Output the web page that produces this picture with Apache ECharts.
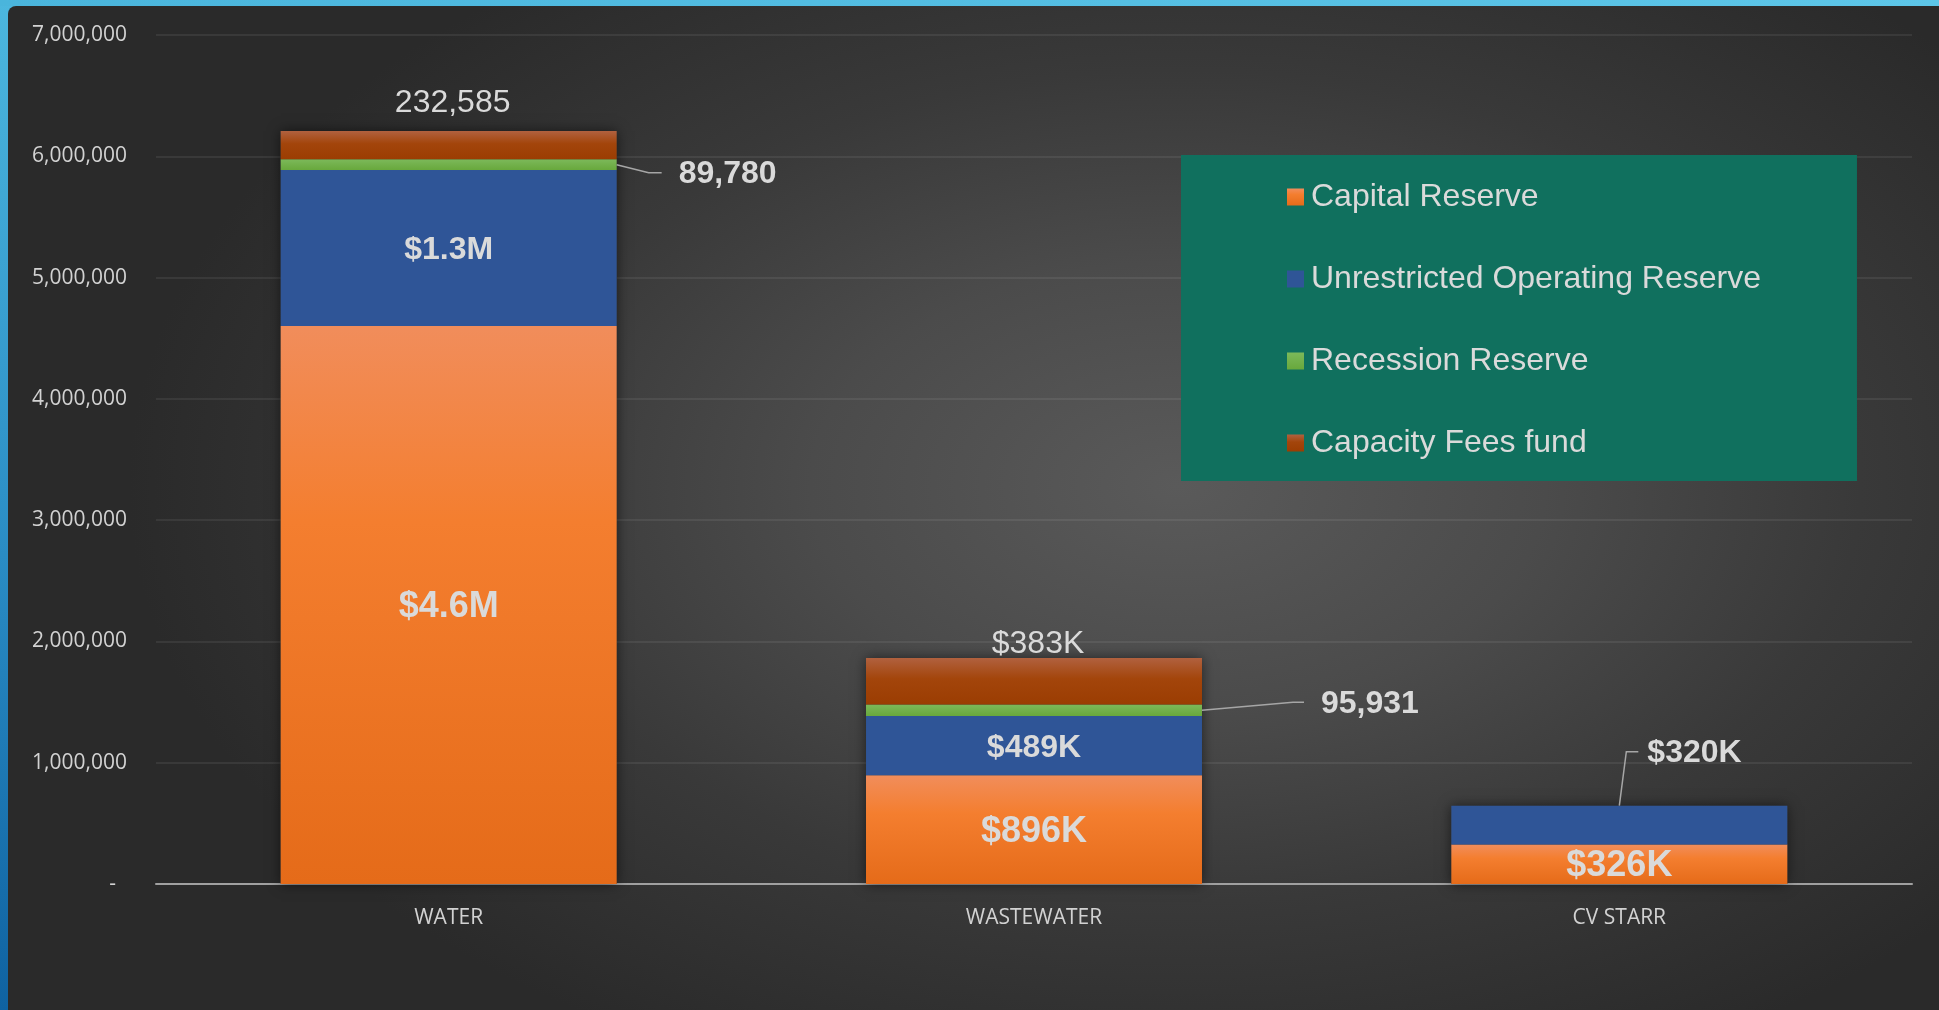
<!DOCTYPE html>
<html>
<head>
<meta charset="utf-8">
<script src="https://cdn.jsdelivr.net/npm/echarts@6/dist/echarts.min.js"></script>
<style>
  html, body { margin: 0; padding: 0; width: 1939px; height: 1010px; overflow: hidden; }
  #frame {
    position: absolute; left: 0; top: 0; width: 1939px; height: 1010px;
    background: linear-gradient(180deg, #4cb7de 0%, #2a8cc4 55%, #0f62a1 100%);
  }
  #frame::before {
    content: ''; position: absolute; left: 0; top: 0; width: 100%; height: 6px;
    background: linear-gradient(90deg, #4ab5dc, #5dc6e8);
  }
  #panel {
    position: absolute; left: 8px; top: 6px; right: 0; bottom: 0;
    border-top-left-radius: 8px;
    background: radial-gradient(ellipse 1050px 640px at 1170px 480px, #5a5a5a 0%, #4b4b4b 35%, #393939 65%, #2a2a2a 100%);
  }
  #chart { position: absolute; left: 0; top: 0; width: 1939px; height: 1010px; }
</style>
</head>
<body>
<div id="frame"><div id="panel"></div></div>
<div id="chart"></div>
<script>
// datos
const categories = ['WATER', 'WASTEWATER', 'CV STARR'];
const capitalReserve = [4600000, 896000, 326000];
const unrestrictedReserve = [1286000, 489000, 320000];
const recessionReserve = [89780, 95931, 0];
const capacityFees = [232585, 383000, 0];
const yMax = 7000000;
const yStep = 1000000;

const totals = categories.map((_, i) =>
  capitalReserve[i] + unrestrictedReserve[i] + recessionReserve[i] + capacityFees[i]);

const money = (v) => v >= 1e6 ? '$' + (v / 1e6).toFixed(1) + 'M' : '$' + Math.round(v / 1000) + 'K';
const comma = (v) => v.toLocaleString('en-US');

const txt = '#dadada';
const labelFont = '"Liberation Sans", Arial, sans-serif';
const axisFont = '"Open Sans", sans-serif';
const BAR_RATIO = 0.574;
const barW = (BAR_RATIO * 100) + '%';

const grad = (stops) => new echarts.graphic.LinearGradient(0, 0, 0, 1,
  stops.map(([offset, color]) => ({ offset, color })));

const orange = grad([[0, '#f18d5b'], [0.35, '#f47e2f'], [1, '#e56b19']]);
const blue = '#2f5597';
const green = grad([[0, '#7cb95a'], [1, '#68a83c']]);
const brown = grad([[0, '#b1613f'], [0.45, '#a3450b'], [1, '#9b3d02']]);

// etiquetas con linea guia (fuera de la barra)
const callouts = [
  { cat: 0, side: 'right', value: capitalReserve[0] + unrestrictedReserve[0] + recessionReserve[0] / 2,
    text: comma(recessionReserve[0]), elbow: [32, 8], run: 13, gap: 17 },
  { cat: 1, side: 'right', value: capitalReserve[1] + unrestrictedReserve[1] + recessionReserve[1] / 2,
    text: comma(recessionReserve[1]), elbow: [91, -8], run: 11, gap: 17 },
  { cat: 2, side: 'top', value: capitalReserve[2] + unrestrictedReserve[2],
    text: money(unrestrictedReserve[2]), elbow: [7, -54], run: 12, gap: 9 },
];

const chart = echarts.init(document.getElementById('chart'), null, { renderer: 'canvas' });

const option = {
  backgroundColor: 'transparent',
  animation: false,
  grid: { left: 156, right: 27, top: 35, bottom: 126 },
  legend: {
    orient: 'vertical',
    left: 1181, top: 155,
    data: ['Capital Reserve', 'Unrestricted Operating Reserve', 'Recession Reserve', 'Capacity Fees fund'],
    backgroundColor: '#10705e',
    padding: [26, 96, 22, 106],
    itemWidth: 17, itemHeight: 17,
    itemGap: 50,
    icon: 'rect',
    textStyle: { color: txt, fontFamily: labelFont, fontSize: 32, lineHeight: 32, padding: [0, 0, 0, 2] },
  },
  xAxis: {
    type: 'category',
    data: categories,
    axisLine: { lineStyle: { color: '#a0a0a0', width: 2 } },
    axisTick: { show: false },
    axisLabel: { color: '#d2d2d2', fontFamily: axisFont, fontSize: 21, margin: 24 },
    splitLine: { show: false },
  },
  yAxis: {
    type: 'value',
    min: 0, max: yMax, interval: yStep,
    axisLine: { show: false },
    axisTick: { show: false },
    axisLabel: {
      color: '#d2d2d2', fontFamily: axisFont, fontSize: 21, margin: 29, padding: [4, 0, 0, 0],
      formatter: (v) => v === 0 ? '-  ' : comma(v),
    },
    splitLine: { lineStyle: { color: 'rgba(255,255,255,0.07)', width: 2 } },
  },
  series: [
    {
      // sombra detras de la columna completa
      name: '_shadow', type: 'bar', data: totals, barWidth: barW, barGap: '-100%', z: 1, silent: true,
      itemStyle: { color: '#3a3a3a', shadowBlur: 12, shadowColor: 'rgba(0,0,0,0.55)' },
    },
    {
      name: 'Capital Reserve', type: 'bar', stack: 'r', data: capitalReserve, barWidth: barW, barGap: '-100%', z: 2,
      itemStyle: { color: orange },
      label: { show: true, position: 'inside', color: txt, fontFamily: labelFont, fontWeight: 'bold', fontSize: 36,
        offset: [0, 2], formatter: (p) => money(p.value) },
    },
    {
      name: 'Unrestricted Operating Reserve', type: 'bar', stack: 'r', barWidth: barW, barGap: '-100%', z: 2,
      data: unrestrictedReserve.map((v, i) => callouts.some((c) => c.cat === i && c.side === 'top')
        ? { value: v, label: { show: false } } : v),
      itemStyle: { color: blue },
      label: { show: true, position: 'inside', color: txt, fontFamily: labelFont, fontWeight: 'bold', fontSize: 32,
        offset: [0, 2], formatter: (p) => money(p.value) },
    },
    {
      name: 'Recession Reserve', type: 'bar', stack: 'r', data: recessionReserve, barWidth: barW, barGap: '-100%', z: 2,
      itemStyle: { color: green },
    },
    {
      name: 'Capacity Fees fund', type: 'bar', stack: 'r', barWidth: barW, barGap: '-100%', z: 2,
      data: capacityFees.map((v, i) => ({ value: v, label: { offset: i === 0 ? [4, -7] : [4, 7] } })),
      itemStyle: { color: brown },
      label: { show: true, position: 'top', color: txt, fontFamily: labelFont, fontSize: 32,
        formatter: (p) => p.value === 0 ? '' : (p.dataIndex === 0 ? comma(p.value) : money(p.value)) },
    },
    {
      name: '_callouts', type: 'custom', z: 5, silent: true,
      data: callouts.map((c) => [c.cat, c.value]),
      renderItem: (params, api) => {
        const c = callouts[params.dataIndex];
        const p = api.coord([api.value(0), api.value(1)]);
        const bw = api.size([1, 0])[0] * BAR_RATIO;
        const x0 = c.side === 'right' ? p[0] + bw / 2 : p[0];
        const y0 = p[1];
        const x1 = x0 + c.elbow[0];
        const y1 = y0 + c.elbow[1];
        const x2 = x1 + c.run;
        return {
          type: 'group',
          children: [
            { type: 'polyline', shape: { points: [[x0, y0], [x1, y1], [x2, y1]] },
              style: { stroke: '#a6a6a6', lineWidth: 1.5, fill: null } },
            { type: 'text', x: x2 + c.gap, y: y1 + 2,
              style: { text: c.text, fill: txt, fontFamily: labelFont, fontWeight: 'bold', fontSize: 32,
                align: 'left', verticalAlign: 'middle' } },
          ],
        };
      },
    },
  ],
};

chart.setOption(option);
</script>
</body>
</html>
